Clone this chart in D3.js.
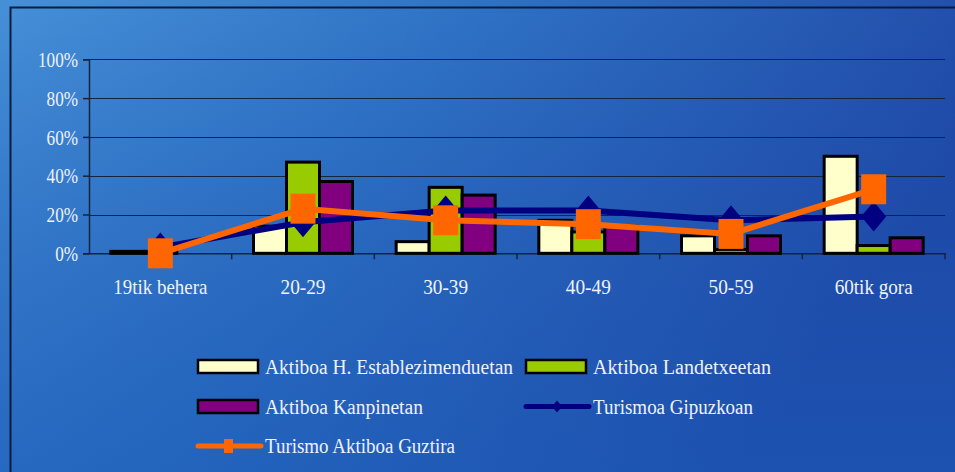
<!DOCTYPE html>
<html><head><meta charset="utf-8">
<script src="https://cdn.jsdelivr.net/npm/d3@7"></script>
<style>html,body{margin:0;padding:0;overflow:hidden;background:#2a6cc0}</style>
</head><body>
<svg id="c" width="955" height="472"></svg>
<script>
const categories = ["19tik behera","20-29","30-39","40-49","50-59","60tik gora"];
const hotelValues = [1, 14, 6, 17, 9, 50];
const landetxeValues = [1, 47, 34, 11, 2, 4];
const kanpinValues = [0, 37, 30, 14, 9, 8];
const gipuzkoaValues = [3, 16, 22, 22, 17, 19];
const guztiraValues = [0, 23, 17, 15, 10, 33];
const yTicks = [0, 20, 40, 60, 80, 100];
const barSeries = ["Aktiboa H. Establezimenduetan","Aktiboa Landetxeetan","Aktiboa Kanpinetan"];
const lineSeries = ["Turismoa Gipuzkoan","Turismo Aktiboa Guztira"];

(function(){
const svg = d3.select("#c");
const W = 955, H = 472;
const defs = svg.append("defs");
const g1 = defs.append("linearGradient").attr("id","bg").attr("x1","0").attr("y1","0").attr("x2","1").attr("y2","0.35");
g1.append("stop").attr("offset","0").attr("stop-color","#4690d8");
g1.append("stop").attr("offset","0.45").attr("stop-color","#2f72c4");
g1.append("stop").attr("offset","1").attr("stop-color","#2048a6");
const g2 = defs.append("linearGradient").attr("id","bg2").attr("x1","0").attr("y1","0").attr("x2","0").attr("y2","1");
g2.append("stop").attr("offset","0").attr("stop-color","#1a4fb0").attr("stop-opacity",0);
g2.append("stop").attr("offset","1").attr("stop-color","#1a5ab8").attr("stop-opacity",0.55);
svg.append("rect").attr("width",W).attr("height",H).attr("fill","url(#bg)");
svg.append("rect").attr("width",W).attr("height",H).attr("fill","url(#bg2)");
svg.append("path").attr("d",`M10.5,${H} V7.5 H${W}`).attr("fill","none").attr("stroke","#0b1d3d").attr("stroke-width",2);

const pL = 89, pR = 945, pT = 59.3, pB = 253.3;
const x = d3.scaleBand().domain(categories).range([pL, pR]);
const y = d3.scaleLinear().domain([0,100]).range([pB, pT]);
const bw = 33;
const xs = d3.scaleBand().domain(barSeries).range([0, bw*3]);

const font = "'Liberation Serif','Times New Roman',serif";
const txt = "#eef3fb";
svg.append("g").selectAll("line").data(yTicks.filter(d=>d>0)).join("line")
  .attr("x1",pL).attr("x2",pR).attr("y1",d=>Math.round(y(d))+0.5).attr("y2",d=>Math.round(y(d))+0.5)
  .attr("stroke","#14243c").attr("stroke-width",1.2);

const ya = svg.append("g").attr("transform",`translate(${pL},0)`)
  .call(d3.axisLeft(y).tickValues(yTicks).tickSize(6).tickFormat(d=>d+"%"));
ya.select(".domain").attr("stroke","#14243c").attr("stroke-width",1.5);
ya.selectAll(".tick line").attr("stroke","#14243c").attr("stroke-width",1.5);
ya.selectAll("text").attr("fill",txt).attr("font-family",font).attr("font-size",22)
  .attr("x",0).attr("dy","0.33em").attr("transform","translate(-11,0) scale(0.78,1)");

const labelW = {"19tik behera":94,"20-29":45,"30-39":45,"40-49":45,"50-59":45,"60tik gora":78};
const xa = svg.append("g").attr("transform",`translate(0,${pB})`)
  .call(d3.axisBottom(x).tickSize(0).tickSizeOuter(0));
xa.select(".domain").attr("stroke","#14243c").attr("stroke-width",1.5);
xa.selectAll(".tick text").attr("fill",txt).attr("font-family",font).attr("font-size",21)
  .attr("y",41).attr("dy",0)
  .attr("textLength",d=>labelW[d]).attr("lengthAdjust","spacingAndGlyphs");
svg.append("g").selectAll("line").data(categories.slice(1).concat(["end"])).join("line")
  .attr("x1",d=>d==="end"?pR:x(d)).attr("x2",d=>d==="end"?pR:x(d))
  .attr("y1",pB).attr("y2",pB+6).attr("stroke","#14243c").attr("stroke-width",1.5);

const colors = ["#ffffcc","#99cc00","#800080"];
const barData = [hotelValues, landetxeValues, kanpinValues];
barData.forEach((vals, si) => {
  svg.append("g").selectAll("rect").data(categories).join("rect")
    .attr("x",(c)=>x(c)+x.bandwidth()/2 - bw*1.5 + xs(barSeries[si]))
    .attr("y",(c,i)=>y(vals[i]))
    .attr("width",bw)
    .attr("height",(c,i)=>Math.max(0,pB - y(vals[i])))
    .attr("fill",colors[si]).attr("stroke","#000").attr("stroke-width",3);
});

const cx = c => x(c)+x.bandwidth()/2;
const line = d3.line().x(d=>cx(d[0])).y(d=>y(d[1]));
const gData = categories.map((c,i)=>[c,gipuzkoaValues[i]]);
svg.append("path").datum(gData).attr("d",line).attr("fill","none").attr("stroke","#000080").attr("stroke-width",6);
svg.append("g").selectAll("path").data(gData).join("path")
  .attr("d",d=>{const px=cx(d[0]), py=y(d[1]); return `M${px},${py-15}L${px+12.5},${py}L${px},${py+15}L${px-12.5},${py}Z`;})
  .attr("fill","#000080");
const oData = categories.map((c,i)=>[c,guztiraValues[i]]);
svg.append("path").datum(oData).attr("d",line).attr("fill","none").attr("stroke","#ff6600").attr("stroke-width",6);
svg.append("g").selectAll("rect").data(oData).join("rect")
  .attr("x",d=>cx(d[0])-12.5).attr("y",d=>y(d[1])-15).attr("width",25).attr("height",30).attr("fill","#ff6600");

const leg = svg.append("g");
const legItems = [
  {name:barSeries[0], type:"bar", color:colors[0], x:198, y:366.5, tw:248},
  {name:barSeries[1], type:"bar", color:colors[1], x:526, y:366.5, tw:178},
  {name:barSeries[2], type:"bar", color:colors[2], x:198, y:406.5, tw:158},
  {name:lineSeries[0], type:"diamond", color:"#000080", x:526, y:406.5, tw:160},
  {name:lineSeries[1], type:"square", color:"#ff6600", x:198, y:446, tw:190}
];
legItems.forEach(it=>{
  const g = leg.append("g");
  let tx = it.x + 67;
  if(it.type==="bar"){
    g.append("rect").attr("x",it.x).attr("y",it.y-6.5).attr("width",60).attr("height",13)
      .attr("fill",it.color).attr("stroke","#000").attr("stroke-width",2.5);
  } else if(it.type==="diamond"){
    g.append("line").attr("x1",it.x).attr("x2",it.x+63).attr("y1",it.y).attr("y2",it.y).attr("stroke",it.color).attr("stroke-width",5).attr("stroke-linecap","round");
    const px=it.x+31;
    g.append("path").attr("d",`M${px},${it.y-6}L${px+5},${it.y}L${px},${it.y+6}L${px-5},${it.y}Z`).attr("fill",it.color);
  } else {
    g.append("line").attr("x1",it.x).attr("x2",it.x+63).attr("y1",it.y).attr("y2",it.y).attr("stroke",it.color).attr("stroke-width",5).attr("stroke-linecap","round");
    g.append("rect").attr("x",it.x+26).attr("y",it.y-7).attr("width",9).attr("height",14).attr("fill",it.color);
  }
  g.append("text").attr("x",tx).attr("y",it.y).attr("dy","0.35em")
    .attr("fill",txt).attr("font-family",font).attr("font-size",20)
    .attr("textLength",it.tw).attr("lengthAdjust","spacingAndGlyphs").text(it.name);
});
})();
</script>
</body></html>
